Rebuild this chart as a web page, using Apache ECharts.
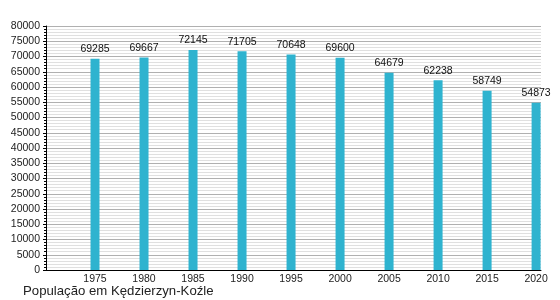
<!DOCTYPE html>
<html><head><meta charset="utf-8">
<script src="https://cdn.jsdelivr.net/npm/echarts@6/dist/echarts.min.js"></script>
<style>html,body{margin:0;padding:0;background:#fff}#c{width:560px;height:300px}</style>
</head><body><div id="c"></div>
<script>
const years = [1975, 1980, 1985, 1990, 1995, 2000, 2005, 2010, 2015, 2020];
const population = [69285, 69667, 72145, 71705, 70648, 69600, 64679, 62238, 58749, 54873];
const yTicks = [0, 5000, 10000, 15000, 20000, 25000, 30000, 35000, 40000, 45000, 50000, 55000, 60000, 65000, 70000, 75000, 80000];
const caption = 'População em Kędzierzyn-Koźle';

const chart = echarts.init(document.getElementById('c'), null, {renderer: 'canvas'});
const font = 'Liberation Sans, Arial, sans-serif';
chart.setOption({
  animation: false,
  backgroundColor: '#fff',
  title: {
    text: caption, left: 18, top: 280,
    textStyle: {fontSize: 13.2, fontWeight: 'normal', color: '#222', fontFamily: font}
  },
  grid: {left: 46, right: 19, top: 26, bottom: 30, containLabel: false},
  xAxis: {
    type: 'value', min: 1970, max: 2020.5, interval: 5,
    axisLine: {show: true, onZero: false, lineStyle: {color: '#000', width: 1}},
    axisTick: {show: false},
    splitLine: {show: false},
    axisLabel: {
      customValues: years,
      formatter: v => String(v),
      color: '#222', fontSize: 10.5, fontFamily: font, margin: 4
    }
  },
  yAxis: {
    type: 'value', min: yTicks[0], max: yTicks[yTicks.length - 1], interval: 5000,
    axisLine: {show: true, lineStyle: {color: '#000', width: 1}},
    axisTick: {show: true, length: 3, lineStyle: {color: '#000'}},
    minorTick: {show: true, splitNumber: 5, length: 2, lineStyle: {color: '#000'}},
    splitLine: {show: true, lineStyle: {color: '#b0b0b0', width: 1}},
    minorSplitLine: {show: true, lineStyle: {color: '#e0e0e0', width: 1}},
    axisLabel: {formatter: v => String(v), color: '#222', fontSize: 10.5, fontFamily: font, margin: 6}
  },
  series: [{
    type: 'bar',
    data: years.map((y, i) => [y, population[i]]),
    barWidth: 9,
    itemStyle: {color: '#2fb3cf'},
    label: {show: true, position: 'top', distance: 4, color: '#111', fontSize: 10.5, fontFamily: font}
  }]
});
</script></body></html>
